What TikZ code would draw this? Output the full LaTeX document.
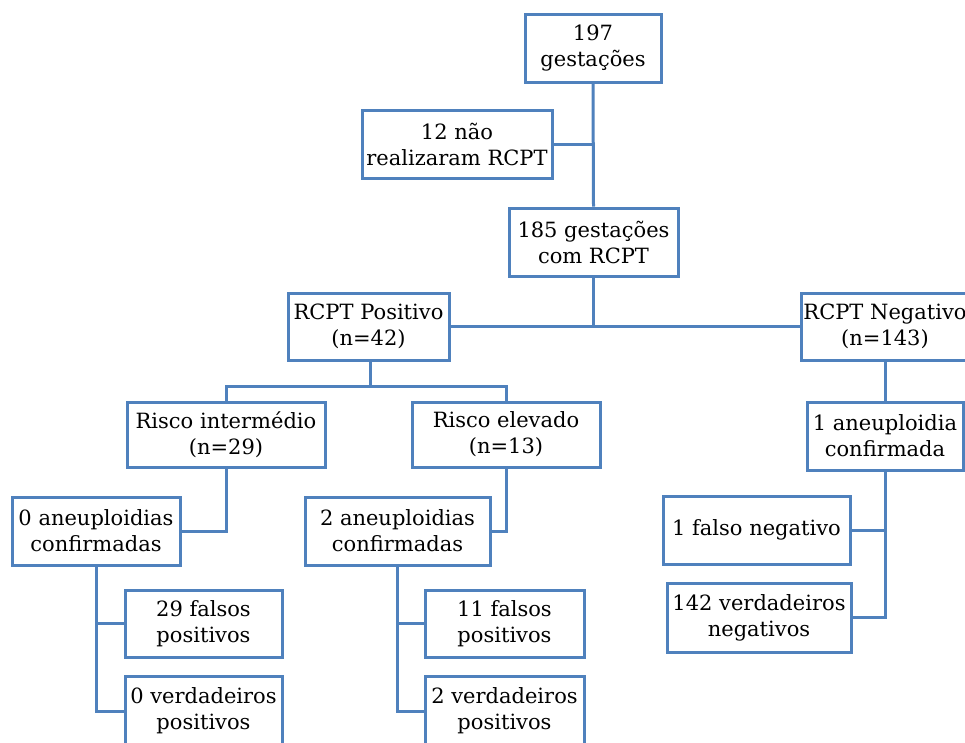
\documentclass[tikz,border=0pt]{standalone}
\usepackage{fontspec}
\setmainfont{DejaVu Serif}
\definecolor{boxblue}{RGB}{79,129,189}
\begin{document}
\begin{tikzpicture}[x=1pt,y=-1pt,
  box/.style={draw=boxblue, line width=3pt, fill=white, align=center,
    inner sep=0pt, font=\fontsize{21}{26}\selectfont},
  link/.style={draw=boxblue, line width=3pt}]
\useasboundingbox (0,0) rectangle (965,742);
\clip (0,0) rectangle (965,742);

% nodes: centre, width, height in pixel units
\node[box, minimum width=136, minimum height=68] (top)   at (593,48)    {197\\gestações};
\node[box, minimum width=190, minimum height=68] (nrcpt) at (457,144)   {12 não\\realizaram RCPT};
\node[box, minimum width=169, minimum height=68] (g185)  at (593.5,242) {185 gestações\\com RCPT};
\node[box, minimum width=161, minimum height=67] (pos)   at (368.5,326.5) {RCPT Positivo\\(n=42)};
\node[box, minimum width=168, minimum height=67] (neg)   at (885,326.5) {RCPT Negativo\\(n=143)};
\node[box, minimum width=198, minimum height=65] (rint)  at (226,434.5) {Risco intermédio\\(n=29)};
\node[box, minimum width=188, minimum height=65] (rel)   at (506,434.5) {Risco elevado\\(n=13)};
\node[box, minimum width=168, minimum height=68] (a0)    at (96,531)    {0 aneuploidias\\confirmadas};
\node[box, minimum width=185, minimum height=68] (a2)    at (397.5,531) {2 aneuploidias\\confirmadas};
\node[box, minimum width=157, minimum height=67] (fp29)  at (203.5,623.5) {29 falsos\\positivos};
\node[box, minimum width=157, minimum height=70] (vp0)   at (203.5,711) {0 verdadeiros\\positivos};
\node[box, minimum width=159, minimum height=67] (fp11)  at (504.5,623.5) {11 falsos\\positivos};
\node[box, minimum width=159, minimum height=70] (vp2)   at (504.5,711) {2 verdadeiros\\positivos};
\node[box, minimum width=156, minimum height=68] (a1)    at (885,436)   {1 aneuploidia\\confirmada};
\node[box, minimum width=187, minimum height=68] (fn1)   at (756.5,530) {1 falso negativo};
\node[box, minimum width=184, minimum height=69] (vn142) at (759,617.5) {142 verdadeiros\\negativos};

% connectors
\draw[link] (top.south) -- (g185.north);
\draw[link] (nrcpt.east) -- (nrcpt.east -| top.south);
\coordinate (split) at (593.5,326);
\draw[link] (g185.south) -- (split);
\draw[link] (pos.east) -- (neg.west);
\coordinate (pj) at (370,386);
\draw[link] (pos.south -| pj) -- (pj);
\draw[link] (rint.north) |- (pj) -| (rel.north);
\draw[link] (rint.south) |- (a0.east);
\draw[link] (rel.south) |- (a2.east);
\draw[link] (a0.south) |- (fp29.west);
\draw[link] (a0.south) |- (vp0.west);
\draw[link] (a2.south) |- (fp11.west);
\draw[link] (a2.south) |- (vp2.west);
\draw[link] (neg.south) -- (a1.north);
\draw[link] (a1.south) |- (fn1.east);
\draw[link] (a1.south) |- (vn142.east);
\end{tikzpicture}
\end{document}
